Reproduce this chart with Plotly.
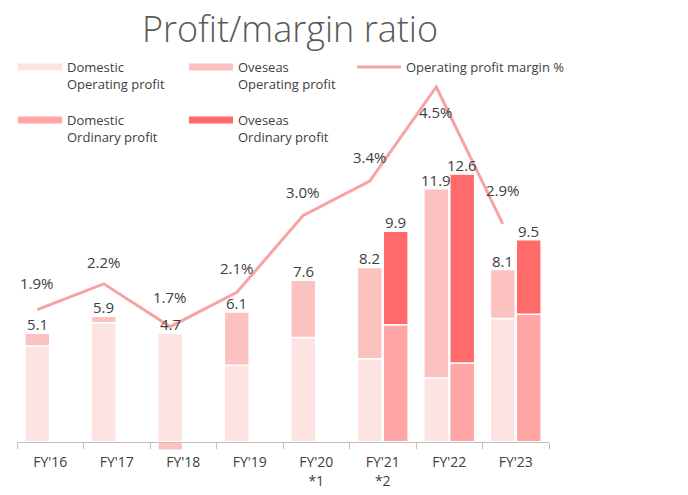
import plotly.graph_objects as go

categories = ["FY'16", "FY'17", "FY'18", "FY'19", "FY'20", "FY'21", "FY'22", "FY'23"]
tick_labels = ["FY'16", "FY'17", "FY'18", "FY'19", "FY'20<br>*1", "FY'21<br>*2", "FY'22", "FY'23"]
dom_op = [4.5, 5.6, 5.1, 3.6, 4.9, 3.9, 3.0, 5.8]
ovs_op = [0.6, 0.3, -0.4, 2.5, 2.7, 4.3, 8.9, 2.3]
op_total = [5.1, 5.9, 4.7, 6.1, 7.6, 8.2, 11.9, 8.1]
dom_ord = [None, None, None, None, None, 5.5, 3.7, 6.0]
ovs_ord = [None, None, None, None, None, 4.4, 8.9, 3.5]
ord_total = [None, None, None, None, None, 9.9, 12.6, 9.5]
margin = [1.9, 2.2, 1.7, 2.1, 3.0, 3.4, 4.5, 2.9]

C_DOM_OP = "#FDE3E2"
C_OVS_OP = "#FBC2BF"
C_DOM_ORD = "#FFA5A5"
C_OVS_ORD = "#FF6B6B"
C_LINE = "#F8A3A3"
TXT = "#404040"
FONT = "Open Sans"

W, H = 688, 495
ML, MR, MT, MB = 17, 139, 60, 20
Y1 = [-1.567, 17.96]
Y2 = [-0.0327, 4.815]
BARGAP = 0.22
shift = (1 - BARGAP) / 4

fig = go.Figure()
bar_line = dict(color="white", width=1.5)
fig.add_trace(go.Bar(x=categories, y=dom_op, offsetgroup="op", marker=dict(color=C_DOM_OP, line=bar_line),
                     name="Domestic<br>Operating profit", showlegend=False, legendgroup="a"))
fig.add_trace(go.Bar(x=categories, y=ovs_op, offsetgroup="op", marker=dict(color=C_OVS_OP, line=bar_line),
                     name="Oveseas<br>Operating profit", showlegend=False, legendgroup="b"))
fig.add_trace(go.Bar(x=categories, y=dom_ord, offsetgroup="ord", marker=dict(color=C_DOM_ORD, line=bar_line),
                     name="Domestic<br>Ordinary profit", showlegend=False, legendgroup="d"))
fig.add_trace(go.Bar(x=categories, y=ovs_ord, offsetgroup="ord", marker=dict(color=C_OVS_ORD, line=bar_line),
                     name="Oveseas<br>Ordinary profit", showlegend=False, legendgroup="e"))
fig.add_trace(go.Scatter(x=categories, y=margin, xaxis="x2", yaxis="y2", mode="lines",
                         line=dict(color=C_LINE, width=3), name="Operating profit margin %", showlegend=False,
                         legendgroup="c"))

# legend entries (line-style swatches like the original)
legend_items = [
    ("Domestic<br>Operating profit", C_DOM_OP, "a", 7, "legend"),
    ("Oveseas<br>Operating profit", C_OVS_OP, "b", 7, "legend"),
    ("Operating profit margin %", C_LINE, "c", 3, "legend3"),
    ("Domestic<br>Ordinary profit", C_DOM_ORD, "d", 7, "legend2"),
    ("Oveseas<br>Ordinary profit", C_OVS_ORD, "e", 7, "legend2"),
]
for name, col, g, w, lg in legend_items:
    fig.add_trace(go.Scatter(x=[None], y=[None], mode="lines", line=dict(color=col, width=w), name=name,
                             legend=lg, legendgroup=g))

ann = []
px_per_cat = (W - ML - MR) / len(categories)
for c, d, o, t in zip(categories, dom_op, ovs_op, op_total):
    top = max(d, 0) + max(o, 0)
    ann.append(dict(x=c, y=top, xref="x", yref="y", text=f"{t:.1f}", showarrow=False, yanchor="bottom",
                    xshift=-shift * px_per_cat, yshift=-3,
                    font=dict(family=FONT, size=15, color=TXT)))
for c, d, o, t in zip(categories, dom_ord, ovs_ord, ord_total):
    if t is None:
        continue
    ann.append(dict(x=c, y=d + o, xref="x", yref="y", text=f"{t:.1f}", showarrow=False, yanchor="bottom",
                    xshift=shift * px_per_cat, yshift=-3,
                    font=dict(family=FONT, size=15, color=TXT)))
label_shift = [27, 22, 30, 24, 23, 24, -25, 34]
for c, m, s in zip(categories, margin, label_shift):
    ann.append(dict(x=c, y=m, xref="x2", yref="y2", text=f"{m:.1f}%", showarrow=False, yanchor="middle",
                    yshift=s, font=dict(family=FONT, size=15, color=TXT)))

xpos = (0 - Y1[0]) / (Y1[1] - Y1[0])
n = len(categories)
legend_common = dict(orientation="h", xref="container", yref="container", yanchor="top", xanchor="left",
                     entrywidth=112, entrywidthmode="pixels", itemwidth=44, valign="top",
                     traceorder="normal", font=dict(family=FONT, size=13, color=TXT),
                     bgcolor="rgba(0,0,0,0)")
fig.update_layout(
    width=W, height=H, margin=dict(l=ML, r=MR, t=MT, b=MB, autoexpand=False),
    paper_bgcolor="white", plot_bgcolor="white",
    barmode="relative", bargap=BARGAP, bargroupgap=0.04,
    title=dict(text="Profit/margin ratio", x=290 / W, xref="container", xanchor="center",
               y=1 - 29 / H, yref="container", yanchor="middle",
               font=dict(family=FONT, size=36, color="#595959", weight=300)),
    xaxis=dict(type="category", categoryorder="array", categoryarray=categories, range=[-0.5, n - 0.5],
               tickvals=categories, ticktext=tick_labels, tickson="boundaries",
               ticks="outside", ticklen=6, tickcolor="#BFBFBF", showline=True, linecolor="#BFBFBF",
               linewidth=1, anchor="free", position=xpos, showgrid=False, ticklabelstandoff=8,
               tickfont=dict(family=FONT, size=14, color=TXT)),
    xaxis2=dict(type="category", categoryorder="array", categoryarray=categories, overlaying="x",
                range=[-0.5 + shift, n - 0.5 + shift], visible=False),
    yaxis=dict(range=Y1, visible=False, showgrid=False, zeroline=False),
    yaxis2=dict(range=Y2, visible=False, overlaying="y", showgrid=False, zeroline=False),
    legend=dict(legend_common, x=13 / W, y=1 - 52 / H),
    legend3=dict(legend_common, x=352 / W, y=1 - 52 / H, entrywidth=0),
    legend2=dict(legend_common, x=13 / W, y=1 - 105 / H),
    annotations=ann,
    showlegend=True,
)
fig.write_html("out.html", config={"displayModeBar": False},
               post_script="document.body.style.margin='0';")
